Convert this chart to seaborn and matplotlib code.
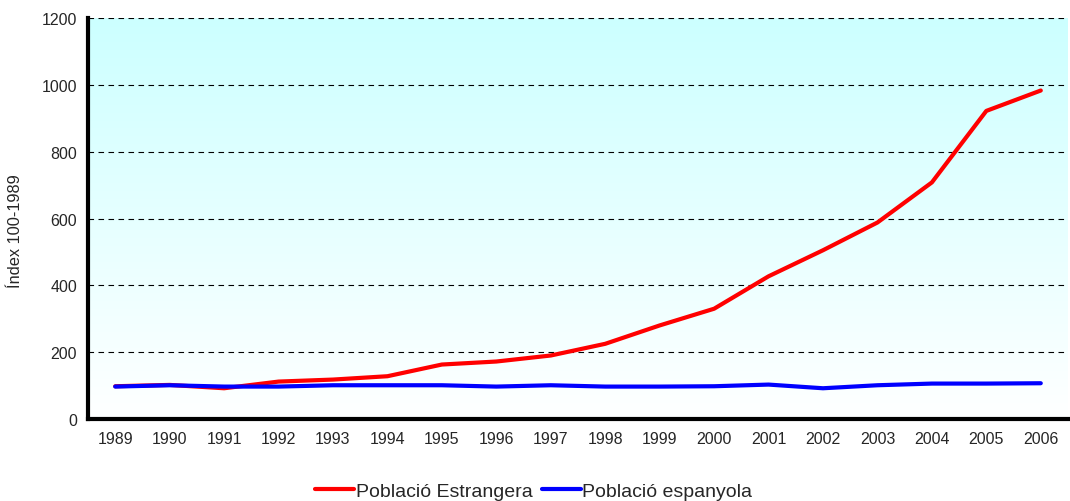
import numpy as np
import pandas as pd
import matplotlib
matplotlib.use("Agg")
import matplotlib.pyplot as plt
from matplotlib.colors import LinearSegmentedColormap
import seaborn as sns

years = [1989, 1990, 1991, 1992, 1993, 1994, 1995, 1996, 1997,
         1998, 1999, 2000, 2001, 2002, 2003, 2004, 2005, 2006]
estrangera = [98, 102, 92, 112, 118, 128, 163, 172, 190,
              225, 280, 330, 427, 505, 588, 708, 922, 983]
espanyola = [97, 101, 97, 97, 101, 101, 101, 97, 101,
             97, 97, 98, 103, 92, 101, 106, 106, 107]
series_names = ["Població Estrangera", "Població espanyola"]
series_colors = ["#FF0000", "#0000FF"]

sns.set_style("white")
plt.rcParams['font.family'] = ['Liberation Sans', 'DejaVu Sans']

df = pd.DataFrame({
    "pos": list(range(len(years))) * 2,
    "value": estrangera + espanyola,
    "serie": [series_names[0]] * len(years) + [series_names[1]] * len(years),
})

fig = plt.figure(figsize=(10.7, 5.02), dpi=100)
ax = fig.add_axes([88 / 1070, 1 - 420 / 502, 980 / 1070, 401 / 502])

# background gradient cyan -> white
grad_cmap = LinearSegmentedColormap.from_list("bg", ["#FFFFFF", "#CCFFFF"])
grad = np.linspace(0, 1, 256).reshape(-1, 1)
ax.imshow(grad, cmap=grad_cmap, aspect="auto", origin="lower",
          extent=[0, 1, 0, 1], transform=ax.transAxes, zorder=0)

sns.lineplot(data=df, x="pos", y="value", hue="serie", palette=series_colors,
             linewidth=3, ax=ax, zorder=3, legend=True)

ax.set_xlim(-0.5, len(years) - 0.5)
ax.set_ylim(0, 1200)
ax.set_yticks(range(0, 1201, 200))
ax.yaxis.grid(True, linestyle=(0, (5, 4)), color="black", linewidth=0.8)
ax.set_axisbelow(False)
for gl in ax.get_ygridlines():
    gl.set_zorder(1)

ax.set_xticks(range(len(years)))
ax.set_xticklabels([str(y) for y in years], fontsize=11.5)
ax.set_xticks(np.arange(-0.5, len(years), 1), minor=True)
ax.tick_params(axis="x", which="major", length=0, pad=9)
ax.tick_params(axis="x", which="minor", length=5, width=2.5, color="black",
               direction="out")
ax.tick_params(axis="y", length=5, width=2.5, color="black", direction="out",
               labelsize=11.5, pad=3)

for side in ["top", "right"]:
    ax.spines[side].set_visible(False)
for side in ["left", "bottom"]:
    ax.spines[side].set_linewidth(3)
    ax.spines[side].set_color("black")
    ax.spines[side].set_zorder(5)

ax.set_xlabel("")
ax.set_ylabel("Índex 100-1989", fontsize=11.8)
ax.yaxis.set_label_coords(-0.066, 0.47)

handles, labels = ax.get_legend_handles_labels()
ax.legend(handles, labels, loc="center", bbox_to_anchor=(0.455, -0.18),
          ncol=2, frameon=False, fontsize=14, handlelength=2.0,
          handletextpad=0.1, columnspacing=0.45, borderpad=0)

fig.savefig("out.png", dpi=100)
